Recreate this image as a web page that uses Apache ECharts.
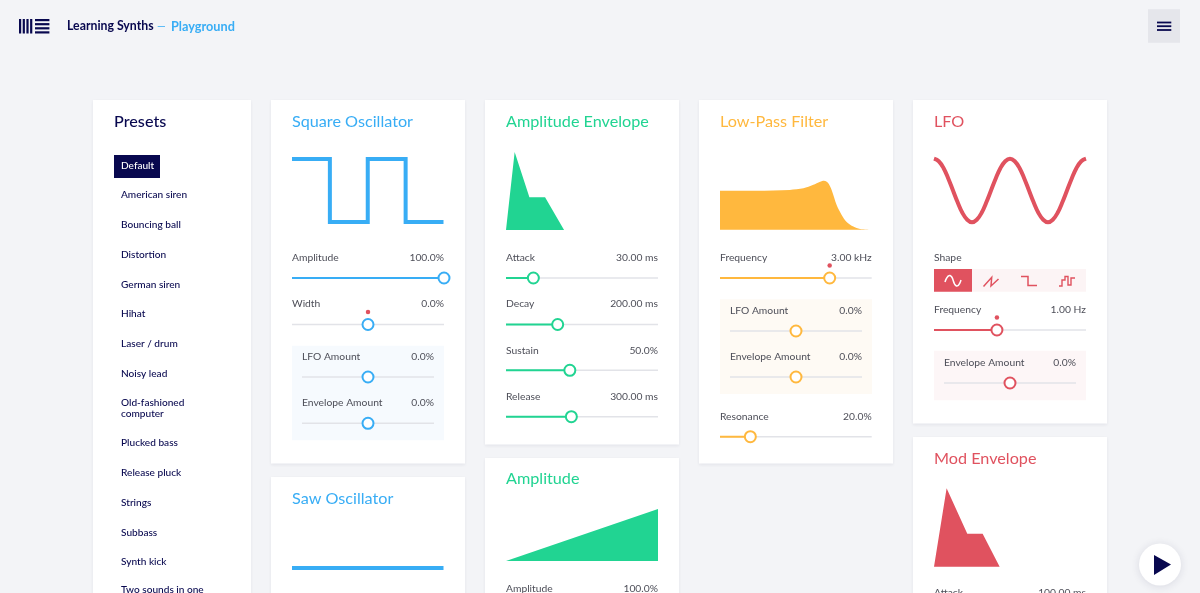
<!DOCTYPE html>
<html>
<head>
<meta charset="utf-8">
<style>html,body{margin:0;padding:0;background:#f3f4f7}#main{width:1200px;height:593px}</style>
<script src="https://cdn.jsdelivr.net/npm/echarts@6/dist/echarts.min.js"></script>
</head>
<body>
<div id="main"></div>
<script>
// data
var presetNames = ['American siren', 'Bouncing ball', 'Distortion', 'German siren', 'Hihat', 'Laser / drum', 'Noisy lead', 'Old-fashioned\ncomputer', 'Plucked bass', 'Release pluck', 'Strings', 'Subbass', 'Synth kick', 'Two sounds in one'];

var squareTime = [0, 0.25, 0.25, 0.5, 0.5, 0.75, 0.75, 1];
var squareLevel = [1, 1, -1, -1, 1, 1, -1, -1];
var sawTime = [0, 1];
var sawLevel = [0, 0];
var ampEnvTime = [0, 0.057, 0.154, 0.257, 0.382];
var ampEnvLevel = [0, 1, 0.42, 0.42, 0];
var amplitudeTime = [0, 1];
var amplitudeLevel = [0, 1];
var filterFreq = [0, 0.24, 0.46, 0.55, 0.615, 0.66, 0.686, 0.71, 0.736, 0.769, 0.802, 0.835, 0.879, 0.923, 1];
var filterGain = [1, 1, 1.02, 1.06, 1.15, 1.23, 1.256, 1.21, 1.02, 0.63, 0.38, 0.2, 0.08, 0.02, 0];
var lfoTime = [0, 0.03125, 0.0625, 0.09375, 0.125, 0.15625, 0.1875, 0.21875, 0.25, 0.28125, 0.3125, 0.34375, 0.375, 0.40625, 0.4375, 0.46875, 0.5, 0.53125, 0.5625, 0.59375, 0.625, 0.65625, 0.6875, 0.71875, 0.75, 0.78125, 0.8125, 0.84375, 0.875, 0.90625, 0.9375, 0.96875, 1];
var lfoLevel = [1, 0.92, 0.71, 0.38, 0, -0.38, -0.71, -0.92, -1, -0.92, -0.71, -0.38, 0, 0.38, 0.71, 0.92, 1, 0.92, 0.71, 0.38, 0, -0.38, -0.71, -0.92, -1, -0.92, -0.71, -0.38, 0, 0.38, 0.71, 0.92, 1];
var modEnvTime = [0, 0.083, 0.219, 0.32, 0.432];
var modEnvLevel = [0, 1, 0.42, 0.42, 0];

var squareNames = ['Amplitude', 'Width', 'LFO Amount', 'Envelope Amount'];
var squareText = ['100.0%', '0.0%', '0.0%', '0.0%'];
var squarePos = [1, 0.5, 0.5, 0.5];
var ampNames = ['Attack', 'Decay', 'Sustain', 'Release'];
var ampText = ['30.00 ms', '200.00 ms', '50.0%', '300.00 ms'];
var ampPos = [0.18, 0.34, 0.42, 0.43];
var filterNames = ['Frequency', 'LFO Amount', 'Envelope Amount', 'Resonance'];
var filterText = ['3.00 kHz', '0.0%', '0.0%', '20.0%'];
var filterPos = [0.723, 0.5, 0.5, 0.2];
var lfoNames = ['Frequency', 'Envelope Amount'];
var lfoText = ['1.00 Hz', '0.0%'];
var lfoPos = [0.414, 0.5];

var BLUE = '#38adf5', GREEN = '#21d492', YELLOW = '#ffb83e', RED = '#e0525f', NAVY = '#08084f', GREY = '#4d4e58';
var FONT = 'Lato';

var myChart = echarts.init(document.getElementById('main'));
var grids = [], xAxes = [], yAxes = [], series = [], shapes = [];

function zip(a, b) {
    return a.map(function (v, i) { return [v, b[i]]; });
}

function addGrid(left, top, width, height, ymin, ymax) {
    grids.push({left: left, top: top, width: width, height: height, containLabel: false});
    xAxes.push({type: 'value', gridIndex: grids.length - 1, min: 0, max: 1, show: false});
    yAxes.push({type: 'value', gridIndex: grids.length - 1, min: ymin, max: ymax, show: false});
    return grids.length - 1;
}

function rect(x, y, w, h, fill, extra) {
    var style = {fill: fill};
    for (var k in extra) style[k] = extra[k];
    shapes.push({type: 'rect', shape: {x: x, y: y, width: w, height: h}, style: style, silent: true});
}

function label(str, x, y, size, fill, align, weight) {
    shapes.push({
        type: 'text', silent: true, z: 5,
        style: {text: str, x: x, y: y, fill: fill, textAlign: align || 'left', textVerticalAlign: 'middle',
            font: (weight || 400) + ' ' + size + 'px ' + FONT, lineHeight: 11}
    });
}

function poly(points, stroke, width, smooth) {
    shapes.push({type: 'polyline', shape: {points: points, smooth: smooth || 0}, style: {stroke: stroke, lineWidth: width, fill: null}, silent: true, z: 5});
}

function card(x, y, w, h) {
    rect(x, y, w, h, '#fff', {shadowBlur: 3, shadowColor: 'rgba(30,30,70,0.07)', shadowOffsetY: 1});
}

function plotLine(xs, ys, left, top, w, h, ymin, ymax, color, lw, smooth) {
    series.push({
        type: 'line', xAxisIndex: addGrid(left, top, w, h, ymin, ymax), yAxisIndex: grids.length - 1,
        data: zip(xs, ys), showSymbol: false, smooth: smooth ? 0.4 : false, clip: false, silent: true,
        lineStyle: {color: color, width: lw, join: 'miter'}
    });
}

function plotArea(xs, ys, left, top, w, h, ymin, ymax, color, smooth) {
    series.push({
        type: 'line', xAxisIndex: addGrid(left, top, w, h, ymin, ymax), yAxisIndex: grids.length - 1,
        data: zip(xs, ys), showSymbol: false, smooth: smooth ? 0.3 : false, clip: false, silent: true,
        lineStyle: {width: 0}, areaStyle: {color: color, opacity: 1}
    });
}

function slider(name, text, pos, x0, x1, y, labelY, color, from, dot) {
    var g = addGrid(x0, y - 1, x1 - x0, 2, 0, 1);
    var base = {type: 'line', xAxisIndex: g, yAxisIndex: g, showSymbol: false, clip: false, silent: true};
    series.push(Object.assign({}, base, {data: [[0, 0.5], [1, 0.5]], lineStyle: {color: '#e2e3e8', width: 1.5}}));
    series.push(Object.assign({}, base, {data: [[from, 0.5], [pos, 0.5]], lineStyle: {color: color, width: 2}, z: 3}));
    series.push({
        type: 'scatter', xAxisIndex: g, yAxisIndex: g, data: [[pos, 0.5]], symbolSize: 11, clip: false, silent: true, z: 4,
        itemStyle: {color: '#fff', borderColor: color, borderWidth: 2, opacity: 1}
    });
    if (dot) {
        series.push({
            type: 'scatter', xAxisIndex: g, yAxisIndex: g, data: [[pos, 0.5]], symbolSize: 4.5, symbolOffset: [0, -12.5],
            clip: false, silent: true, z: 4, itemStyle: {color: RED, opacity: 1}
        });
    }
    label(name, x0, labelY, 10.3, GREY);
    label(text, x1, labelY, 10.3, GREY, 'right');
}

// page furniture
rect(0, 0, 1200, 593, '#f3f4f7');
[19, 22.7, 26.4, 30.1].forEach(function (x) { rect(x, 19, 2.2, 14.5, NAVY); });
[19, 23.1, 27.2, 31.3].forEach(function (y) { rect(35, y, 14.4, 2.2, NAVY); });
label('Learning Synths', 67, 26.5, 12.3, NAVY, 'left', 700);
label('—', 157, 26.5, 11, BLUE);
label('Playground', 171, 26.5, 12.7, BLUE, 'left', 700);
rect(1148, 9.3, 32, 33.4, '#e5e6eb');
[22.5, 26.2, 30].forEach(function (y) { rect(1157, y - 0.9, 14.3, 1.8, NAVY); });

card(93, 100, 158, 520);
card(271, 100, 194, 363.5);
card(271, 477, 194, 140);
card(485, 100, 194, 344.5);
card(485, 458, 194, 160);
card(699, 100, 194, 363.5);
card(913, 100, 194, 323.5);
card(913, 437, 194, 180);

// presets
label('Presets', 114, 121.5, 16.2, NAVY, 'left', 500);
rect(114, 155, 46, 23, NAVY);
label('Default', 121, 165.5, 10.1, '#fff', 'left', 500);
var presetY = [194.5, 224.5, 254.5, 284.5, 313.5, 343.5, 373.5, 408.5, 442.5, 472.5, 502.5, 532.5, 561.5, 589.5];
presetNames.forEach(function (n, i) { label(n, 121, presetY[i], 10.1, NAVY, 'left', 500); });

// square oscillator
label('Square Oscillator', 292, 121.5, 16.2, BLUE);
plotLine(squareTime, squareLevel, 292, 159, 151.5, 63, -1, 1, BLUE, 4);
rect(292, 345.7, 152, 94.5, '#f6fafe');
slider(squareNames[0], squareText[0], squarePos[0], 292, 444, 278, 258, BLUE, 0);
slider(squareNames[1], squareText[1], squarePos[1], 292, 444, 324.5, 304, BLUE, 0.5, true);
slider(squareNames[2], squareText[2], squarePos[2], 302, 434, 377, 356.5, BLUE, 0.5);
slider(squareNames[3], squareText[3], squarePos[3], 302, 434, 423.3, 403, BLUE, 0.5);

// saw oscillator
label('Saw Oscillator', 292, 498.5, 16.2, BLUE);
plotLine(sawTime, sawLevel, 292, 548, 151.5, 40, -1, 1, BLUE, 4);

// amplitude envelope
label('Amplitude Envelope', 506, 121.5, 16.2, GREEN);
plotArea(ampEnvTime, ampEnvLevel, 506, 152, 152, 78, 0, 1, GREEN);
slider(ampNames[0], ampText[0], ampPos[0], 506, 658, 278, 258, GREEN, 0);
slider(ampNames[1], ampText[1], ampPos[1], 506, 658, 324.5, 304, GREEN, 0);
slider(ampNames[2], ampText[2], ampPos[2], 506, 658, 370.3, 350.5, GREEN, 0);
slider(ampNames[3], ampText[3], ampPos[3], 506, 658, 416.7, 397, GREEN, 0);

// amplitude
label('Amplitude', 506, 479, 16.2, GREEN);
plotArea(amplitudeTime, amplitudeLevel, 506, 509, 152, 52, 0, 1, GREEN);
label('Amplitude', 506, 589, 10.3, GREY);
label('100.0%', 658, 589, 10.3, GREY, 'right');

// low-pass filter
label('Low-Pass Filter', 720, 121.5, 16.2, YELLOW);
plotArea(filterFreq, filterGain, 720, 180.7, 151.7, 49, 0, 1.256, YELLOW, true);
rect(720, 299.3, 152, 94.7, '#fefaf4');
slider(filterNames[0], filterText[0], filterPos[0], 720, 871.7, 278, 258, YELLOW, 0, true);
slider(filterNames[1], filterText[1], filterPos[1], 730, 862, 331, 311, YELLOW, 0.5);
slider(filterNames[2], filterText[2], filterPos[2], 730, 862, 377, 357, YELLOW, 0.5);
slider(filterNames[3], filterText[3], filterPos[3], 720, 871.7, 436.7, 416.5, YELLOW, 0);

// lfo
label('LFO', 934, 121.5, 16.2, RED);
plotLine(lfoTime, lfoLevel, 934, 158.7, 152, 63.6, -1, 1, RED, 4, true);
label('Shape', 934, 257.5, 10.3, GREY);
rect(934, 269, 152, 22.7, '#fcf4f5');
rect(934, 269, 38, 22.7, RED);
poly([[945, 282], [950, 275.5], [956.5, 286], [961, 280]], '#fff', 1.5, 0.6);
poly([[983.5, 286.5], [991.7, 277.3], [991, 286], [998.5, 279]], RED, 1.5);
poly([[1021, 276.5], [1028, 276.5], [1028, 285.5], [1037, 285.5]], RED, 1.5);
poly([[1059, 286], [1062, 286], [1062, 280], [1065, 280], [1065, 276.5], [1068, 276.5], [1068, 285], [1071, 285], [1071, 278], [1075, 278]], RED, 1.4);
slider(lfoNames[0], lfoText[0], lfoPos[0], 934, 1086, 330, 310, RED, 0, true);
rect(934, 350.7, 152, 49.5, '#fdf6f7');
slider(lfoNames[1], lfoText[1], lfoPos[1], 944, 1076, 383, 363, RED, 0.5);

// mod envelope
label('Mod Envelope', 934, 458.5, 16.2, RED);
plotArea(modEnvTime, modEnvLevel, 934, 488.3, 152, 78.4, 0, 1, RED);
label('Attack', 934, 593, 10.3, GREY);
label('100.00 ms', 1086, 593, 10.3, GREY, 'right');

// play button
shapes.push({type: 'circle', shape: {cx: 1160, cy: 564.5, r: 21}, style: {fill: '#fff', shadowBlur: 8, shadowColor: 'rgba(30,30,70,0.12)', shadowOffsetY: 1}, silent: true, z: 6});
shapes.push({type: 'polygon', shape: {points: [[1154, 555], [1171, 564.5], [1154, 575]]}, style: {fill: NAVY}, silent: true, z: 7});

var option = {
    animation: false,
    backgroundColor: '#f3f4f7',
    grid: grids,
    xAxis: xAxes,
    yAxis: yAxes,
    series: series,
    graphic: {elements: shapes}
};
myChart.setOption(option);
</script>
</body>
</html>
